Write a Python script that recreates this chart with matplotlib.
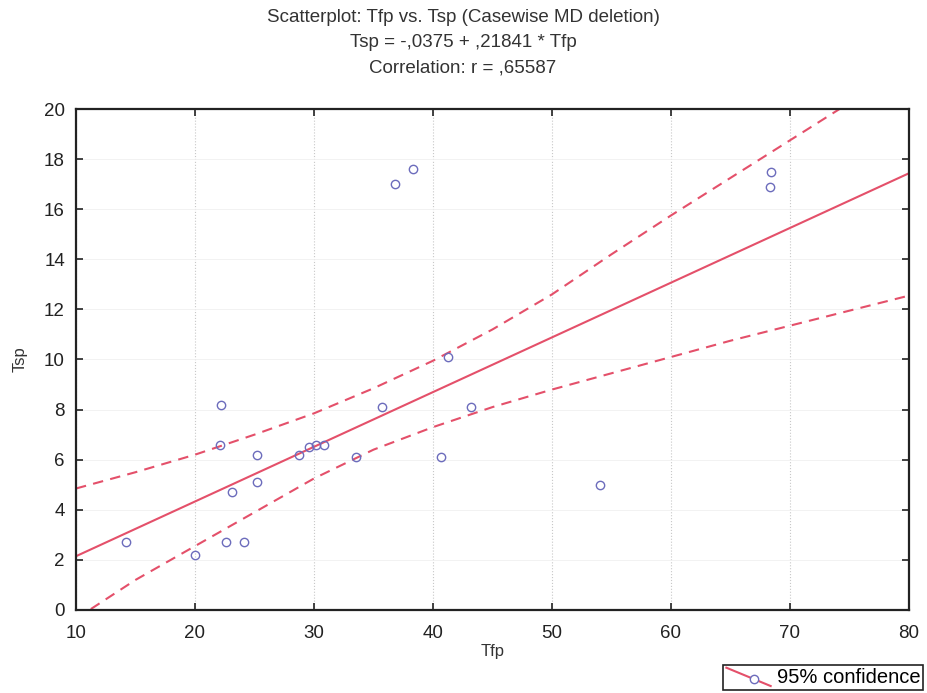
import numpy as np
import matplotlib
matplotlib.use("Agg")
import matplotlib.pyplot as plt
from matplotlib.lines import Line2D
from matplotlib.legend_handler import HandlerBase

plt.rcParams['font.family'] = ['Liberation Sans', 'DejaVu Sans']

tfp = [14.2, 20.0, 22.2, 22.1, 22.6, 23.1, 24.1, 25.2, 25.2, 28.7, 29.6, 30.2,
       30.8, 33.5, 35.7, 36.8, 38.3, 41.3, 40.7, 43.2, 54.0, 68.3, 68.4]
tsp = [2.7, 2.2, 8.2, 6.6, 2.7, 4.7, 2.7, 6.2, 5.1, 6.2, 6.5, 6.6,
       6.6, 6.1, 8.1, 17.0, 17.6, 10.1, 6.1, 8.1, 5.0, 16.9, 17.5]

# regression line from the title
intercept = -0.0375
slope = 0.21841

# 95% confidence band
band_x = [10, 15, 20, 25, 30, 35, 40, 45, 50, 55, 60, 65, 70, 75, 80]
band_hi = [4.85, 5.5, 6.2, 7.0, 7.85, 8.85, 9.95, 11.2, 12.6, 14.2, 15.75,
           17.25, 18.75, 20.25, 21.75]
band_lo = [-0.35, 1.2, 2.55, 3.9, 5.25, 6.4, 7.3, 8.1, 8.8, 9.45, 10.1,
           10.75, 11.35, 11.95, 12.55]

line_col = '#e4506a'
pt_col = '#6c6cbc'
txt_col = '#333333'

fit_x = np.array([10, 80])
fit_y = intercept + slope * fit_x


class DiagHandler(HandlerBase):
    # legend key: slanted line with an open circle on it
    def create_artists(self, legend, orig, xdescent, ydescent, width, height,
                       fontsize, trans):
        x0, x1 = -xdescent, -xdescent + width
        y0, y1 = -ydescent - 0.2 * height, -ydescent + 1.1 * height
        ln = Line2D([x0, x1], [y1, y0], color=line_col, lw=1.5, transform=trans)
        mk = Line2D([x0 + 0.62 * width], [y1 - 0.62 * (y1 - y0)], marker='o',
                    ms=6, mfc='white', mec=pt_col, mew=1.0, ls='none',
                    transform=trans)
        return [ln, mk]


fig = plt.figure(figsize=(9.28, 6.93), dpi=100)
ax = fig.add_axes([0.0819, 0.1198, 0.8976, 0.7229])

ax.plot(fit_x, fit_y, color=line_col, lw=1.5)
ax.plot(band_x, band_hi, color=line_col, lw=1.5, ls=(0, (5, 3.5)))
ax.plot(band_x, band_lo, color=line_col, lw=1.5, ls=(0, (5, 3.5)))
ax.plot(tfp, tsp, 'o', ms=6, mfc='none', mec=pt_col, mew=1.0)

ax.set_xlim(10, 80)
ax.set_ylim(0, 20)
ax.set_xticks(range(10, 81, 10))
ax.set_yticks(range(0, 21, 2))
ax.grid(True, axis='x', color='#c8c8c8', ls=':', lw=0.8)
ax.grid(True, axis='y', color='#f0f0f0', ls='-', lw=0.6)
ax.tick_params(direction='in', top=True, right=True, length=5, width=1.2,
               labelsize=13.5, colors='#222222')
ax.tick_params(axis='x', pad=11)
ax.tick_params(axis='y', pad=8)
for sp in ax.spines.values():
    sp.set_linewidth(1.6)
    sp.set_color('#222222')

ax.set_xlabel('Tfp', fontsize=12, color=txt_col, labelpad=1)
ax.set_ylabel('Tsp', fontsize=12, color=txt_col, labelpad=12)

fig.text(0.499, 0.975, 'Scatterplot: Tfp vs. Tsp (Casewise MD deletion)',
         ha='center', va='center', fontsize=13.5, color=txt_col)
fig.text(0.499, 0.939, 'Tsp = -,0375 + ,21841 * Tfp',
         ha='center', va='center', fontsize=13.5, color=txt_col)
fig.text(0.499, 0.902, 'Correlation: r = ,65587',
         ha='center', va='center', fontsize=13.5, color=txt_col)

proxy = Line2D([], [], color=line_col)
leg = fig.legend([proxy], ['95% confidence'], handler_map={proxy: DiagHandler()},
                 loc='lower right', bbox_to_anchor=(0.995, 0.004),
                 bbox_transform=fig.transFigure, fontsize=14.5, fancybox=False,
                 framealpha=1, edgecolor='#222222', borderpad=0.15,
                 handlelength=2.2, handletextpad=0.3, borderaxespad=0)
leg.get_frame().set_linewidth(1.2)

fig.savefig('out.png', dpi=100)
